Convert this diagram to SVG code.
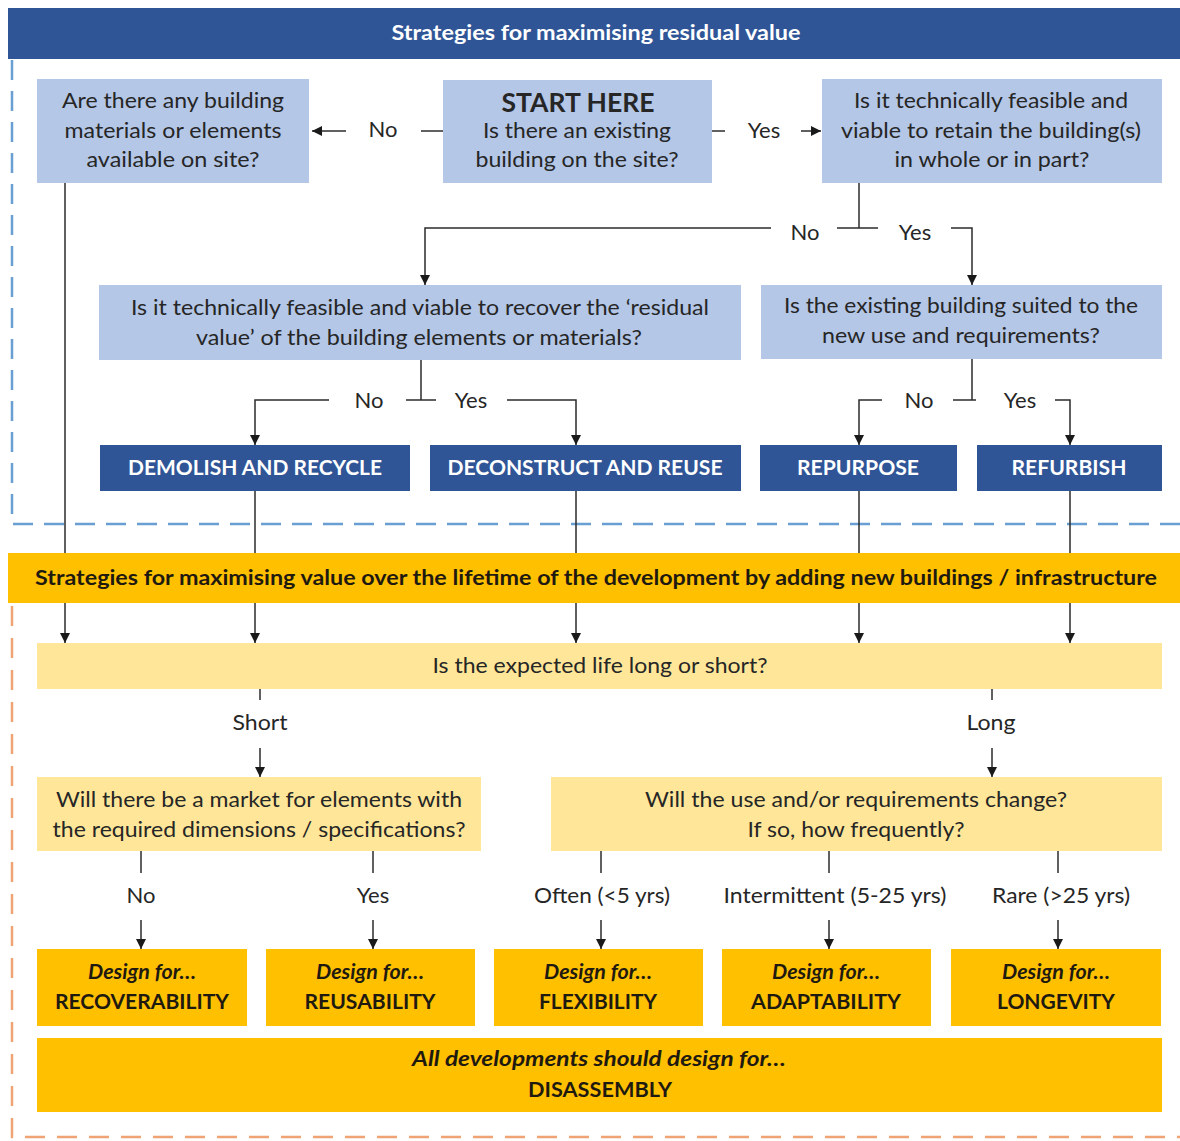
<svg xmlns="http://www.w3.org/2000/svg" width="1180" height="1141" viewBox="0 0 1180 1141">
<style>
  text { font-family: Lato, "Open Sans", "Liberation Sans", sans-serif; text-anchor: middle; fill: #262626; }
  .q { font-size: 22px; }
  .lab { font-size: 22px; }
  .hdr { font-size: 21px; font-weight: bold; fill: #ffffff; }
  .act { font-size: 21px; font-weight: bold; fill: #ffffff; }
  .bar { font-size: 21px; font-weight: bold; fill: #1f1a10; }
  .dfi { font-size: 21px; font-weight: bold; font-style: italic; fill: #1f1a10; }
  .dfb { font-size: 21px; font-weight: bold; fill: #1f1a10; }
  .start { font-size: 26px; font-weight: bold; }
  .lb { fill: #b4c7e7; }
  .db { fill: #2f5597; }
  .ly { fill: #ffe699; }
  .gy { fill: #ffc000; }
  .c { fill: none; stroke: #2b2b2b; stroke-width: 1.5; }
  .ca { fill: none; stroke: #2b2b2b; stroke-width: 1.5; marker-end: url(#ah); }
  .dashB { fill: none; stroke: #6a9fd4; stroke-width: 2.5; stroke-dasharray: 20 11; }
  .dashO { fill: none; stroke: #f0a374; stroke-width: 2.5; stroke-dasharray: 20 12; }
</style>
<defs>
  <marker id="ah" markerUnits="userSpaceOnUse" markerWidth="10" markerHeight="10" refX="10" refY="5" orient="auto">
    <path d="M0,0 L10,5 L0,10 z" fill="#1a1a1a"/>
  </marker>
</defs>
<rect x="0" y="0" width="1180" height="1141" fill="#ffffff"/>

<g id="frames">
  <path class="dashB" d="M12,60 V524 H1180"/>
  <path class="dashO" d="M12,606 V1137 H1180"/>
</g>

<g id="header">
  <rect class="db" x="8" y="8" width="1172" height="51"/>
  <text class="hdr" x="596" y="40" textLength="409" lengthAdjust="spacingAndGlyphs">Strategies for maximising residual value</text>
</g>

<g id="node-materials">
  <rect class="lb" x="37" y="79" width="272" height="104"/>
  <text class="q" x="173" y="108" textLength="222" lengthAdjust="spacingAndGlyphs">Are there any building</text>
  <text class="q" x="173" y="138" textLength="217" lengthAdjust="spacingAndGlyphs">materials or elements</text>
  <text class="q" x="173" y="167" textLength="173" lengthAdjust="spacingAndGlyphs">available on site?</text>
</g>

<g id="node-start">
  <rect class="lb" x="443" y="80" width="269" height="103"/>
  <text class="start" x="578" y="112" textLength="153" lengthAdjust="spacingAndGlyphs">START HERE</text>
  <text class="q" x="577" y="138" textLength="188" lengthAdjust="spacingAndGlyphs">Is there an existing</text>
  <text class="q" x="577" y="167" textLength="203" lengthAdjust="spacingAndGlyphs">building on the site?</text>
</g>

<g id="node-retain">
  <rect class="lb" x="822" y="79" width="340" height="104"/>
  <text class="q" x="991" y="108" textLength="274" lengthAdjust="spacingAndGlyphs">Is it technically feasible and</text>
  <text class="q" x="991" y="138" textLength="300" lengthAdjust="spacingAndGlyphs">viable to retain the building(s)</text>
  <text class="q" x="992" y="167" textLength="195" lengthAdjust="spacingAndGlyphs">in whole or in part?</text>
</g>

<g id="node-recover">
  <rect class="lb" x="99" y="285" width="642" height="75"/>
  <text class="q" x="420" y="315" textLength="578" lengthAdjust="spacingAndGlyphs">Is it technically feasible and viable to recover the ‘residual</text>
  <text class="q" x="419" y="345" textLength="446" lengthAdjust="spacingAndGlyphs">value’ of the building elements or materials?</text>
</g>

<g id="node-suited">
  <rect class="lb" x="761" y="285" width="401" height="74"/>
  <text class="q" x="961" y="313" textLength="354" lengthAdjust="spacingAndGlyphs">Is the existing building suited to the</text>
  <text class="q" x="961" y="343" textLength="278" lengthAdjust="spacingAndGlyphs">new use and requirements?</text>
</g>

<g id="node-demolish">
  <rect class="db" x="100" y="445" width="310" height="46"/>
  <text class="act" x="255" y="475" textLength="254" lengthAdjust="spacingAndGlyphs">DEMOLISH AND RECYCLE</text>
</g>
<g id="node-deconstruct">
  <rect class="db" x="430" y="445" width="311" height="46"/>
  <text class="act" x="585" y="475" textLength="275" lengthAdjust="spacingAndGlyphs">DECONSTRUCT AND REUSE</text>
</g>
<g id="node-repurpose">
  <rect class="db" x="760" y="445" width="197" height="46"/>
  <text class="act" x="858" y="475" textLength="122" lengthAdjust="spacingAndGlyphs">REPURPOSE</text>
</g>
<g id="node-refurbish">
  <rect class="db" x="977" y="445" width="185" height="46"/>
  <text class="act" x="1069" y="475" textLength="115" lengthAdjust="spacingAndGlyphs">REFURBISH</text>
</g>

<g id="connectors">
  <path class="c" d="M443,131 H421"/>
  <path class="ca" d="M346,131 H312"/>
  <path class="c" d="M712,131 H725"/>
  <path class="ca" d="M801,131 H821"/>

  <path class="c" d="M859,183 V228"/>
  <path class="ca" d="M771,228 H425 V285"/>
  <path class="c" d="M837,228 H878"/>
  <path class="ca" d="M951,228 H972 V285"/>

  <path class="c" d="M421,360 V400"/>
  <path class="ca" d="M329,400 H255 V445"/>
  <path class="c" d="M406,400 H436"/>
  <path class="ca" d="M507,400 H576 V445"/>

  <path class="c" d="M972,359 V400"/>
  <path class="ca" d="M882,400 H859 V445"/>
  <path class="c" d="M953,400 H976"/>
  <path class="ca" d="M1055,400 H1070 V445"/>

  <path class="c" d="M65,183 V553"/>
  <path class="c" d="M255,491 V553"/>
  <path class="c" d="M576,491 V553"/>
  <path class="c" d="M859,491 V553"/>
  <path class="c" d="M1070,491 V553"/>

  <path class="ca" d="M65,603 V643"/>
  <path class="ca" d="M255,603 V643"/>
  <path class="ca" d="M576,603 V643"/>
  <path class="ca" d="M859,603 V643"/>
  <path class="ca" d="M1070,603 V643"/>

  <path class="c" d="M260,689 V700"/>
  <path class="ca" d="M260,748 V777"/>
  <path class="c" d="M992,689 V700"/>
  <path class="ca" d="M992,748 V777"/>

  <path class="c" d="M141,851 V873"/>
  <path class="c" d="M373,851 V873"/>
  <path class="c" d="M601,851 V873"/>
  <path class="c" d="M829,851 V873"/>
  <path class="c" d="M1058,851 V873"/>
  <path class="ca" d="M141,920 V949"/>
  <path class="ca" d="M373,920 V949"/>
  <path class="ca" d="M601,920 V949"/>
  <path class="ca" d="M829,920 V949"/>
  <path class="ca" d="M1058,920 V949"/>
</g>

<g id="labels">
  <text class="lab" x="383" y="137">No</text>
  <text class="lab" x="764" y="138">Yes</text>
  <text class="lab" x="805" y="240">No</text>
  <text class="lab" x="915" y="240">Yes</text>
  <text class="lab" x="369" y="408">No</text>
  <text class="lab" x="471" y="408">Yes</text>
  <text class="lab" x="919" y="408">No</text>
  <text class="lab" x="1020" y="408">Yes</text>
  <text class="lab" x="260" y="730" textLength="55" lengthAdjust="spacingAndGlyphs">Short</text>
  <text class="lab" x="991" y="730" textLength="49" lengthAdjust="spacingAndGlyphs">Long</text>
  <text class="lab" x="141" y="903">No</text>
  <text class="lab" x="373" y="903">Yes</text>
  <text class="lab" x="602" y="903" textLength="136" lengthAdjust="spacingAndGlyphs">Often (&lt;5 yrs)</text>
  <text class="lab" x="835" y="903" textLength="223" lengthAdjust="spacingAndGlyphs">Intermittent (5-25 yrs)</text>
  <text class="lab" x="1061" y="903" textLength="138" lengthAdjust="spacingAndGlyphs">Rare (&gt;25 yrs)</text>
</g>

<g id="bar-lifetime">
  <rect class="gy" x="8" y="553" width="1172" height="50"/>
  <text class="bar" x="596" y="585" textLength="1122" lengthAdjust="spacingAndGlyphs">Strategies for maximising value over the lifetime of the development by adding new buildings / infrastructure</text>
</g>

<g id="node-lifespan">
  <rect class="ly" x="37" y="643" width="1125" height="46"/>
  <text class="q" x="600" y="673" textLength="335" lengthAdjust="spacingAndGlyphs">Is the expected life long or short?</text>
</g>

<g id="node-market">
  <rect class="ly" x="37" y="777" width="444" height="74"/>
  <text class="q" x="259" y="807" textLength="406" lengthAdjust="spacingAndGlyphs">Will there be a market for elements with</text>
  <text class="q" x="259" y="837" textLength="413" lengthAdjust="spacingAndGlyphs">the required dimensions / specifications?</text>
</g>

<g id="node-change">
  <rect class="ly" x="551" y="777" width="611" height="74"/>
  <text class="q" x="856" y="807" textLength="422" lengthAdjust="spacingAndGlyphs">Will the use and/or requirements change?</text>
  <text class="q" x="856" y="837" textLength="217" lengthAdjust="spacingAndGlyphs">If so, how frequently?</text>
</g>

<g id="node-recoverability">
  <rect class="gy" x="37" y="949" width="210" height="77"/>
  <text class="dfi" x="142" y="979" textLength="108" lengthAdjust="spacingAndGlyphs">Design for…</text>
  <text class="dfb" x="142" y="1009" textLength="174" lengthAdjust="spacingAndGlyphs">RECOVERABILITY</text>
</g>
<g id="node-reusability">
  <rect class="gy" x="266" y="949" width="209" height="77"/>
  <text class="dfi" x="370" y="979" textLength="108" lengthAdjust="spacingAndGlyphs">Design for…</text>
  <text class="dfb" x="370" y="1009" textLength="131" lengthAdjust="spacingAndGlyphs">REUSABILITY</text>
</g>
<g id="node-flexibility">
  <rect class="gy" x="494" y="949" width="209" height="77"/>
  <text class="dfi" x="598" y="979" textLength="108" lengthAdjust="spacingAndGlyphs">Design for…</text>
  <text class="dfb" x="598" y="1009" textLength="118" lengthAdjust="spacingAndGlyphs">FLEXIBILITY</text>
</g>
<g id="node-adaptability">
  <rect class="gy" x="722" y="949" width="209" height="77"/>
  <text class="dfi" x="826" y="979" textLength="108" lengthAdjust="spacingAndGlyphs">Design for…</text>
  <text class="dfb" x="826" y="1009" textLength="150" lengthAdjust="spacingAndGlyphs">ADAPTABILITY</text>
</g>
<g id="node-longevity">
  <rect class="gy" x="951" y="949" width="210" height="77"/>
  <text class="dfi" x="1056" y="979" textLength="108" lengthAdjust="spacingAndGlyphs">Design for…</text>
  <text class="dfb" x="1056" y="1009" textLength="118" lengthAdjust="spacingAndGlyphs">LONGEVITY</text>
</g>

<g id="node-disassembly">
  <rect class="gy" x="37" y="1038" width="1125" height="74"/>
  <text class="dfi" x="599" y="1066" textLength="374" lengthAdjust="spacingAndGlyphs">All developments should design for…</text>
  <text class="dfb" x="600" y="1097" textLength="144" lengthAdjust="spacingAndGlyphs">DISASSEMBLY</text>
</g>
</svg>
